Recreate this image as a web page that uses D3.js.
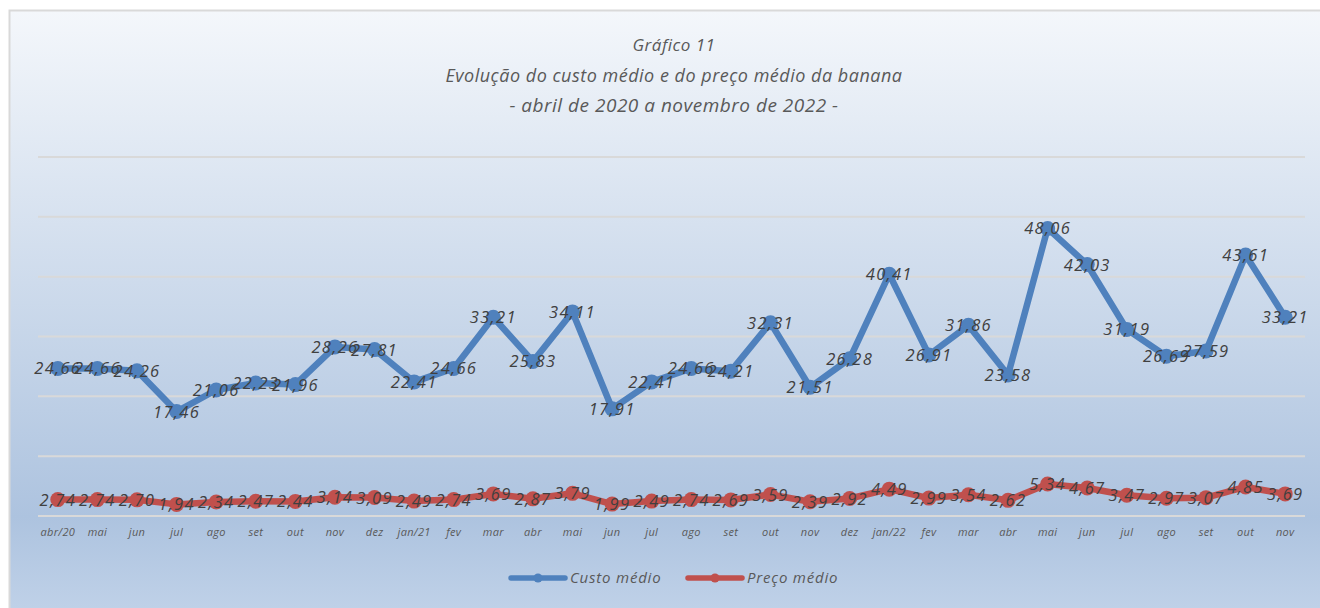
<!DOCTYPE html>
<html>
<head>
<meta charset="utf-8">
<script src="https://cdn.jsdelivr.net/npm/d3@7"></script>
<style>
  body { margin: 0; background: #fff; }
  text { font-family: "Open Sans", "DejaVu Sans", sans-serif; font-style: italic; }
</style>
</head>
<body>
<div id="chart"></div>
<script>
// categorias (meses) abril/2020 a novembro/2022
const months = ["abr/20", "mai", "jun", "jul", "ago", "set", "out", "nov", "dez", "jan/21",
  "fev", "mar", "abr", "mai", "jun", "jul", "ago", "set", "out", "nov", "dez", "jan/22",
  "fev", "mar", "abr", "mai", "jun", "jul", "ago", "set", "out", "nov"];

const custoMedio = [24.66, 24.66, 24.26, 17.46, 21.06, 22.23, 21.96, 28.26, 27.81, 22.41,
  24.66, 33.21, 25.83, 34.11, 17.91, 22.41, 24.66, 24.21, 32.31, 21.51, 26.28, 40.41,
  26.91, 31.86, 23.58, 48.06, 42.03, 31.19, 26.69, 27.59, 43.61, 33.21];

const precoMedio = [2.74, 2.74, 2.70, 1.94, 2.34, 2.47, 2.44, 3.14, 3.09, 2.49,
  2.74, 3.69, 2.87, 3.79, 1.99, 2.49, 2.74, 2.69, 3.59, 2.39, 2.92, 4.49,
  2.99, 3.54, 2.62, 5.34, 4.67, 3.47, 2.97, 3.07, 4.85, 3.69];

const gridTicks = [0, 10, 20, 30, 40, 50, 60];

const series = [
  { name: "Custo médio", values: custoMedio, color: "#4f81bd" },
  { name: "Preço médio", values: precoMedio, color: "#c0504d" }
];

const W = 1320, H = 608;
const svg = d3.select("#chart").append("svg").attr("width", W).attr("height", H);

const defs = svg.append("defs");
const grad = defs.append("linearGradient").attr("id", "bg")
  .attr("x1", 0).attr("y1", 0).attr("x2", 0).attr("y2", 1);
grad.append("stop").attr("offset", "0%").attr("stop-color", "#f4f7fb");
grad.append("stop").attr("offset", "82%").attr("stop-color", "#adc3df");
grad.append("stop").attr("offset", "100%").attr("stop-color", "#c3d4ea");

svg.append("rect").attr("x", 9.5).attr("y", 10.5).attr("width", W + 10).attr("height", H + 10)
  .attr("fill", "url(#bg)").attr("stroke", "#d9d9d9").attr("stroke-width", 2);

// títulos
const titleX = 674;
const titles = [
  { t: "Gráfico 11", y: 51, s: 17 },
  { t: "Evolução do custo médio e do preço médio da banana", y: 82, s: 18 },
  { t: "- abril de 2020 a novembro de 2022 -", y: 112, s: 19 }
];
svg.selectAll(".title").data(titles).enter().append("text")
  .attr("x", titleX).attr("y", d => d.y)
  .attr("text-anchor", "middle")
  .attr("font-size", d => d.s)
  .attr("fill", "#595959")
  .attr("letter-spacing", "0.5")
  .text(d => d.t);

const margin = { left: 38, right: 1305, top: 157, bottom: 516 };

const x = d3.scaleBand().domain(d3.range(months.length))
  .range([margin.left, margin.right]);
const y = d3.scaleLinear().domain([0, 60]).range([margin.bottom, margin.top]);

// linhas de grade
svg.append("g").selectAll("line").data(gridTicks).enter().append("line")
  .attr("x1", margin.left).attr("x2", margin.right)
  .attr("y1", d => y(d)).attr("y2", d => y(d))
  .attr("stroke", "#d9d9d9").attr("stroke-width", 2);

// eixo x
const xAxis = d3.axisBottom(x).tickSize(0).tickPadding(0)
  .tickFormat(i => months[i]);
const gx = svg.append("g").attr("transform", `translate(0,${margin.bottom})`).call(xAxis);
gx.select(".domain").remove();
gx.selectAll("text")
  .attr("dy", 0).attr("y", 20)
  .attr("font-size", 11)
  .attr("fill", "#595959")
  .attr("letter-spacing", "0.3")
  .style("font-family", "'Open Sans', sans-serif")
  .style("font-style", "italic");

const cx = i => x(i) + x.bandwidth() / 2;
const line = d3.line().x((d, i) => cx(i)).y(d => y(d));
const fmt = v => d3.format(".2f")(v).replace(".", ",");

series.forEach(s => {
  const g = svg.append("g");
  g.append("path").datum(s.values)
    .attr("d", line)
    .attr("fill", "none")
    .attr("stroke", s.color)
    .attr("stroke-width", 6.5)
    .attr("stroke-linejoin", "round")
    .attr("stroke-linecap", "round");
  g.selectAll("circle").data(s.values).enter().append("circle")
    .attr("cx", (d, i) => cx(i)).attr("cy", d => y(d))
    .attr("r", 7.5).attr("fill", s.color);
});

// rótulos de dados
series.forEach(s => {
  svg.append("g").selectAll("text").data(s.values).enter().append("text")
    .attr("x", (d, i) => cx(i)).attr("y", d => y(d) + 6)
    .attr("text-anchor", "middle")
    .attr("font-size", 16.5)
    .attr("letter-spacing", "1.3")
    .attr("fill", "#404040")
    .text(d => fmt(d));
});

// legenda
const legend = [
  { name: "Custo médio", color: "#4f81bd", x: 511 },
  { name: "Preço médio", color: "#c0504d", x: 688 }
];
const lg = svg.append("g");
legend.forEach(l => {
  lg.append("line").attr("x1", l.x).attr("x2", l.x + 54)
    .attr("y1", 578).attr("y2", 578)
    .attr("stroke", l.color).attr("stroke-width", 5.5).attr("stroke-linecap", "round");
  lg.append("circle").attr("cx", l.x + 27).attr("cy", 578).attr("r", 4.5).attr("fill", l.color);
  lg.append("text").attr("x", l.x + 59).attr("y", 583)
    .attr("font-size", 15).attr("fill", "#595959").attr("letter-spacing", "0.8")
    .text(l.name);
});
</script>
</body>
</html>
